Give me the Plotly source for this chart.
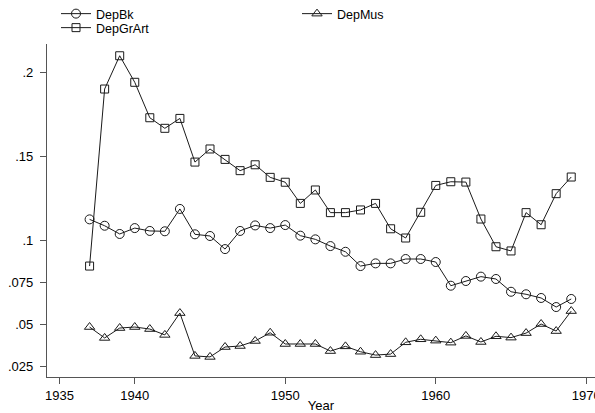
import plotly.graph_objects as go

years = list(range(1937, 1970))

dep_bk = [0.1123, 0.1085, 0.1036, 0.1071, 0.1054, 0.1052, 0.1185, 0.1034, 0.1024, 0.0946,
          0.1054, 0.1087, 0.1071, 0.1089, 0.1026, 0.1004, 0.0964, 0.0930, 0.0845, 0.0861,
          0.0861, 0.0887, 0.0887, 0.0869, 0.0728, 0.0756, 0.0782, 0.0768, 0.0692, 0.0677,
          0.0655, 0.0601, 0.0649]

dep_mus = [0.0482, 0.0417, 0.0476, 0.0482, 0.0470, 0.0435, 0.0565, 0.0310, 0.0304, 0.0363,
           0.0369, 0.0399, 0.0448, 0.0381, 0.0381, 0.0381, 0.0339, 0.0367, 0.0335, 0.0315,
           0.0321, 0.0391, 0.0409, 0.0401, 0.0389, 0.0429, 0.0393, 0.0427, 0.0419, 0.0446,
           0.0500, 0.0458, 0.0577]

dep_grart = [0.0845, 0.1899, 0.2097, 0.1939, 0.1728, 0.1665, 0.1724, 0.1464, 0.1542, 0.1480,
             0.1413, 0.1448, 0.1373, 0.1344, 0.1218, 0.1298, 0.1163, 0.1163, 0.1179, 0.1218,
             0.1067, 0.1012, 0.1165, 0.1325, 0.1347, 0.1345, 0.1125, 0.0960, 0.0935, 0.1163,
             0.1091, 0.1276, 0.1375]

x_ticks = [1935, 1940, 1950, 1960, 1970]
y_ticks = [0.025, 0.05, 0.075, 0.1, 0.15, 0.2]
y_tick_text = [".025", ".05", ".075", ".1", ".15", ".2"]

FONT = "Liberation Sans, Arial, sans-serif"
LINE = "#1a1a1a"
W, H = 595, 413

fig = go.Figure()
series = [("DepBk", dep_bk, "circle-open", 9, "legend"),
          ("DepMus", dep_mus, "triangle-up-open", 9, "legend2"),
          ("DepGrArt", dep_grart, "square-open", 8, "legend3")]
for name, vals, sym, sz, leg in series:
    fig.add_trace(go.Scatter(
        x=years, y=vals, name=name, mode="lines+markers",
        line=dict(color=LINE, width=1),
        marker=dict(symbol=sym, size=sz, color=LINE, line=dict(width=1, color=LINE)),
        cliponaxis=False, legend=leg,
    ))

def leg(px, py):
    return dict(xref="container", yref="container", x=px / W, y=1 - py / H,
                xanchor="left", yanchor="middle", font=dict(size=12.5),
                bgcolor="rgba(0,0,0,0)", borderwidth=0)

fig.update_layout(
    width=W, height=H,
    margin=dict(l=47, r=0, t=44, b=36, autoexpand=False),
    paper_bgcolor="white", plot_bgcolor="white",
    font=dict(family=FONT, size=13, color="black"),
    showlegend=True,
    legend=leg(56, 14),
    legend2=leg(297, 14),
    legend3=leg(56, 28),
    xaxis=dict(range=[1934.17, 1970.58], tickmode="array", tickvals=x_ticks,
               ticks="outside", ticklen=6, tickwidth=1, tickcolor="#555",
               showline=True, linecolor="#555", linewidth=1.3,
               showgrid=False, zeroline=False, automargin=False,
               ticklabeloverflow="allow",
               title=dict(text="Year", standoff=0, font=dict(size=13))),
    yaxis=dict(range=[0.01845, 0.2167], tickmode="array", tickvals=y_ticks,
               ticktext=y_tick_text, automargin=False, ticklabelstandoff=4,
               ticks="outside", ticklen=6, tickwidth=1, tickcolor="#555",
               showline=True, linecolor="#555", linewidth=1.3,
               showgrid=False, zeroline=False),
)

fig.write_html("out.html", config={"displayModeBar": False},
               post_script="document.body.style.margin='0';document.body.style.overflow='hidden';")
